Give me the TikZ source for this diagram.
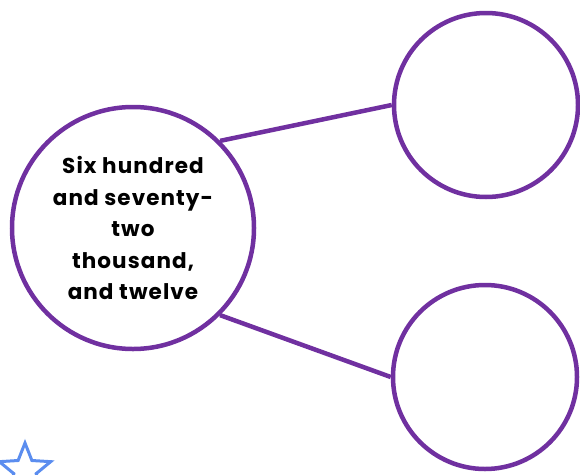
\documentclass[tikz,border=0pt]{standalone}
\usepackage{fontspec}
\setmainfont{Poppins}
\newfontfamily\ringfont[LetterSpace=5]{Poppins}
\usepackage{tikz}
\usetikzlibrary{shapes.geometric}
\definecolor{ringpurple}{HTML}{7030A0}
\definecolor{starblue}{HTML}{5B8DEF}
\tikzstyle{bigvertex} = [draw=ringpurple, line width=4.5pt, fill=white, minimum size=242pt, inner sep=0pt, text centered, align=center, circle, font=\ringfont\fontsize{21.5}{31.5}\selectfont\bfseries]
\tikzstyle{vertex} = [draw=ringpurple, line width=4.5pt, fill=white, minimum size=184pt, inner sep=0pt, circle]
\tikzstyle{edge} = [ringpurple, line width=4.5pt]

\begin{document}
\begin{tikzpicture}[x=1pt, y=-1pt]

\clip (0,0) rectangle (580,474);
\useasboundingbox (0,0) rectangle (580,474);

\node[star, star points=5, star point ratio=2.3, draw=starblue, line width=3pt, minimum size=54pt, inner sep=0pt] (mark) at (25,470) {};

\node[bigvertex] (number) at (133,228) {Six hundred\\and seventy-\\two\\thousand,\\and twelve};
\node[vertex] (upper) at (486,105) {};
\node[vertex] (lower) at (485,377) {};

\draw[edge] (number.45) to (upper.west);
\draw[edge] (number.-45) to (lower.west);

\end{tikzpicture}
\end{document}
